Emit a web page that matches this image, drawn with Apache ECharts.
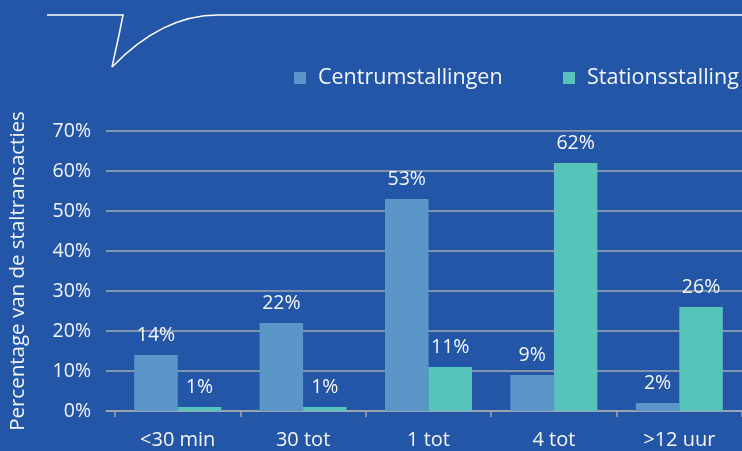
<!DOCTYPE html>
<html>
<head>
<meta charset="utf-8">
<script src="https://cdn.jsdelivr.net/npm/echarts@6/dist/echarts.min.js"></script>
<style>
html,body{margin:0;padding:0;background:#2356a6;}
#c{width:742px;height:451px;}
</style>
</head>
<body>
<div id="c"></div>
<script>
const categories = ['<30 min', '30 tot', '1 tot', '4 tot', '>12 uur'];
const centrum = [14, 22, 53, 9, 2];
const station = [1, 1, 11, 62, 26];
const seriesNames = ['Centrumstallingen', 'Stationsstalling'];
const yAxisTitle = 'Percentage van de staltransacties';

const FONT = 'Open Sans';
const TXT = '#f4f6fa';
const GRID = '#a3a9b3';
const bubbleStyle = { stroke: '#ffffff', lineWidth: 1.5, fill: null };
const legendBase = {
  top: 62, itemWidth: 12, itemHeight: 12, icon: 'rect',
  textStyle: { color: TXT, fontSize: 21.5, fontFamily: FONT, padding: [0, 0, 0, 7] }
};

const chart = echarts.init(document.getElementById('c'));
chart.setOption({
  backgroundColor: '#2356a6',
  animation: false,
  textStyle: { fontFamily: FONT },
  legend: [
    Object.assign({}, legendBase, { left: 289, data: [seriesNames[0]] }),
    Object.assign({}, legendBase, { left: 558, data: [seriesNames[1]] })
  ],
  graphic: [
    { type: 'polyline', shape: { points: [[47, 15], [123, 15], [119, 35], [112, 67]] }, style: bubbleStyle },
    { type: 'bezierCurve', shape: { x1: 112, y1: 67, cpx1: 140, cpy1: 38, cpx2: 175, cpy2: 15, x2: 218, y2: 15 }, style: bubbleStyle },
    { type: 'line', shape: { x1: 218, y1: 15, x2: 745, y2: 15 }, style: bubbleStyle }
  ],
  grid: [
    { left: 105, top: 131, width: 642, height: 280 },
    { left: 115, top: 131, width: 632.5, height: 280 }
  ],
  xAxis: [
    { type: 'category', gridIndex: 0, data: categories,
      axisLine: { lineStyle: { color: GRID, width: 1.5 } },
      axisTick: { show: false }, axisLabel: { show: false } },
    { type: 'category', gridIndex: 1, data: categories,
      axisLine: { show: false },
      axisTick: { show: true, length: 6, lineStyle: { color: GRID, width: 1.5 } },
      axisLabel: { color: TXT, fontSize: 20, fontFamily: FONT, margin: 19 } }
  ],
  yAxis: [
    { type: 'value', gridIndex: 0, min: 0, max: 70, interval: 10,
      axisLabel: { formatter: '{value}%', color: TXT, fontSize: 19.5, fontFamily: FONT, margin: 15 },
      splitLine: { lineStyle: { color: GRID, width: 1.5 } },
      axisLine: { show: false }, axisTick: { show: false },
      name: yAxisTitle, nameLocation: 'middle', nameGap: 77,
      nameTextStyle: { color: TXT, fontSize: 20.5, fontFamily: FONT } },
    { type: 'value', gridIndex: 1, min: 0, max: 70, interval: 10, show: false,
      splitLine: { show: false } }
  ],
  series: [
    { name: seriesNames[0], type: 'bar', xAxisIndex: 1, yAxisIndex: 1, data: centrum,
      barWidth: 43.5, barGap: '0%',
      itemStyle: { color: '#5b96c9' },
      label: { show: true, position: 'top', distance: 10, formatter: '{c}%', color: TXT, fontSize: 19.5, fontFamily: FONT } },
    { name: seriesNames[1], type: 'bar', xAxisIndex: 1, yAxisIndex: 1, data: station,
      barWidth: 43.5, barGap: '0%',
      itemStyle: { color: '#57c4bc' },
      label: { show: true, position: 'top', distance: 10, formatter: '{c}%', color: TXT, fontSize: 19.5, fontFamily: FONT } }
  ]
});
</script>
</body>
</html>
